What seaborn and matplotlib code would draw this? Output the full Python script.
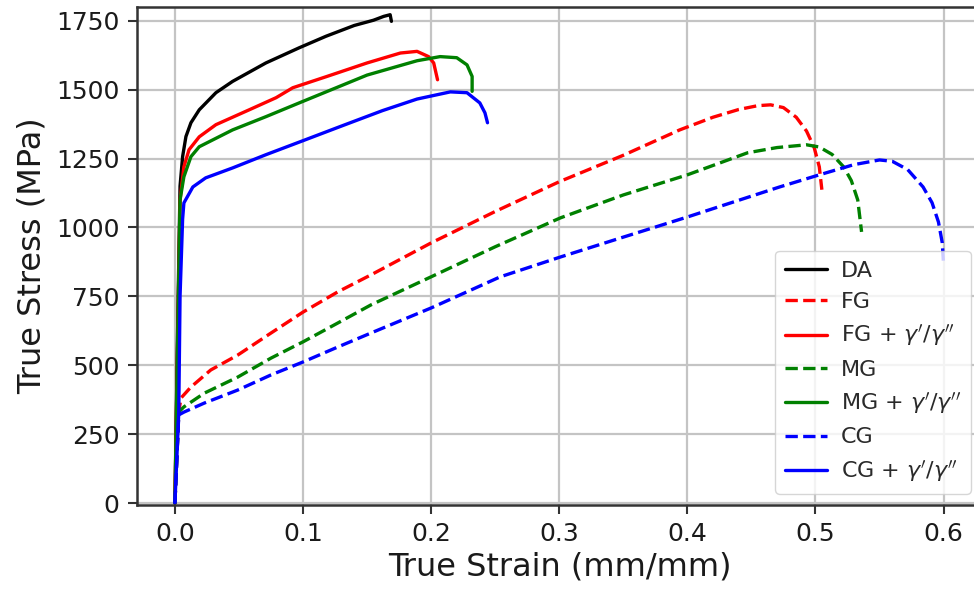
import matplotlib
matplotlib.use("Agg")
import matplotlib.pyplot as plt
import seaborn as sns
import pandas as pd

# ---- data ----
da_strain = [0, 0.002, 0.004, 0.006, 0.0086, 0.0125, 0.019, 0.032, 0.045, 0.071, 0.097, 0.118,
             0.14, 0.155, 0.163, 0.168, 0.169]
da_stress = [0, 600, 1150, 1257, 1330, 1380, 1427, 1489, 1530, 1597, 1652, 1694,
             1733, 1752, 1766, 1772, 1748]

fg_strain = [0, 0.003, 0.0047, 0.0125, 0.028, 0.049, 0.075, 0.1, 0.127, 0.153, 0.2, 0.25, 0.3,
             0.35, 0.394, 0.42, 0.44, 0.455, 0.465, 0.475, 0.485, 0.493, 0.499, 0.503, 0.505]
fg_stress = [0, 330, 381, 421, 483, 537, 617, 693, 766, 828, 944, 1058, 1166,
             1262, 1354, 1400, 1428, 1442, 1445, 1435, 1400, 1350, 1290, 1220, 1137]

fgp_strain = [0, 0.004, 0.007, 0.011, 0.019, 0.032, 0.058, 0.079, 0.092, 0.118, 0.15, 0.176,
              0.189, 0.198, 0.202, 0.205]
fgp_stress = [0, 1100, 1220, 1282, 1329, 1373, 1427, 1471, 1507, 1547, 1597, 1633,
              1639, 1620, 1597, 1536]

mg_strain = [0, 0.003, 0.007, 0.023, 0.049, 0.075, 0.1, 0.127, 0.153, 0.2, 0.25, 0.301, 0.35,
             0.4, 0.447, 0.47, 0.493, 0.503, 0.513, 0.522, 0.528, 0.533, 0.536]
mg_stress = [0, 330, 349, 399, 457, 526, 585, 653, 719, 821, 930, 1035, 1118,
             1191, 1271, 1290, 1300, 1292, 1265, 1220, 1170, 1100, 984]

mgp_strain = [0, 0.004, 0.007, 0.0125, 0.019, 0.045, 0.071, 0.097, 0.118, 0.15, 0.189, 0.207,
              0.22, 0.228, 0.232, 0.232]
mgp_stress = [0, 1100, 1184, 1257, 1293, 1354, 1402, 1452, 1492, 1553, 1605, 1620,
              1616, 1590, 1548, 1494]

cg_strain = [0, 0.003, 0.007, 0.023, 0.049, 0.075, 0.1, 0.127, 0.153, 0.2, 0.254, 0.301, 0.35,
             0.4, 0.472, 0.503, 0.53, 0.55, 0.56, 0.572, 0.584, 0.591, 0.596, 0.599, 0.6]
cg_stress = [0, 320, 330, 363, 410, 465, 512, 566, 617, 708, 821, 893, 965,
             1038, 1147, 1191, 1228, 1245, 1240, 1210, 1147, 1090, 1020, 944, 864]

cgp_strain = [0, 0.003, 0.004, 0.006, 0.007, 0.014, 0.024, 0.045, 0.071, 0.1, 0.13, 0.162,
              0.189, 0.215, 0.228, 0.238, 0.242, 0.244]
cgp_stress = [0, 330, 750, 1030, 1089, 1147, 1180, 1216, 1264, 1315, 1368, 1424,
              1466, 1492, 1489, 1452, 1416, 1380]

labels = ["DA", "FG", r"FG + $\gamma'/\gamma''$", "MG", r"MG + $\gamma'/\gamma''$",
          "CG", r"CG + $\gamma'/\gamma''$"]
x_ticks = [0.0, 0.1, 0.2, 0.3, 0.4, 0.5, 0.6]
y_ticks = [0, 250, 500, 750, 1000, 1250, 1500, 1750]

series = [
    (da_strain, da_stress, labels[0], "black", "-"),
    (fg_strain, fg_stress, labels[1], "red", "--"),
    (fgp_strain, fgp_stress, labels[2], "red", "-"),
    (mg_strain, mg_stress, labels[3], "green", "--"),
    (mgp_strain, mgp_stress, labels[4], "green", "-"),
    (cg_strain, cg_stress, labels[5], "blue", "--"),
    (cgp_strain, cgp_stress, labels[6], "blue", "-"),
]

sns.set_style("ticks")
plt.rcParams["font.family"] = ["DejaVu Sans"]

fig = plt.figure(figsize=(9.74, 6.01), dpi=100)
ax = fig.add_axes([137 / 974, 1 - 505 / 601, (982 - 137) / 974, (505 - 7) / 601])

for xs, ys, lab, col, ls in series:
    df = pd.DataFrame({"strain": xs, "stress": ys})
    sns.lineplot(data=df, x="strain", y="stress", sort=False, estimator=None,
                 color=col, linestyle=ls, linewidth=2.4, label=lab, ax=ax)

ax.set_xlim(-0.0296, 0.63)
ax.set_ylim(-7, 1800)
ax.set_xticks(x_ticks)
ax.set_xticklabels([f"{v:.1f}" for v in x_ticks])
ax.set_yticks(y_ticks)
ax.set_yticklabels([str(v) for v in y_ticks])
ax.grid(True, color="#c4c4c4", linewidth=1.6)
ax.set_axisbelow(True)
for s in ["left", "bottom", "top"]:
    ax.spines[s].set_color("#333333")
    ax.spines[s].set_linewidth(1.8)
ax.spines["right"].set_visible(False)
ax.tick_params(axis="both", labelsize=18, length=6.5, width=1.5, color="#333333",
               labelcolor="#1a1a1a", direction="out", pad=6)
ax.set_xlabel("True Strain (mm/mm)", fontsize=23, color="#1a1a1a", labelpad=4)
ax.set_ylabel("True Stress (MPa)", fontsize=23, color="#1a1a1a", labelpad=6)

leg = ax.legend(loc="lower right", fontsize=16, frameon=True, framealpha=0.8,
                handlelength=1.9, handletextpad=0.6, borderpad=0.45, borderaxespad=0.5)
leg.get_frame().set_edgecolor("#cccccc")
for t in leg.get_texts():
    t.set_color("#2a2a2a")

fig.savefig("out.png", dpi=100)
